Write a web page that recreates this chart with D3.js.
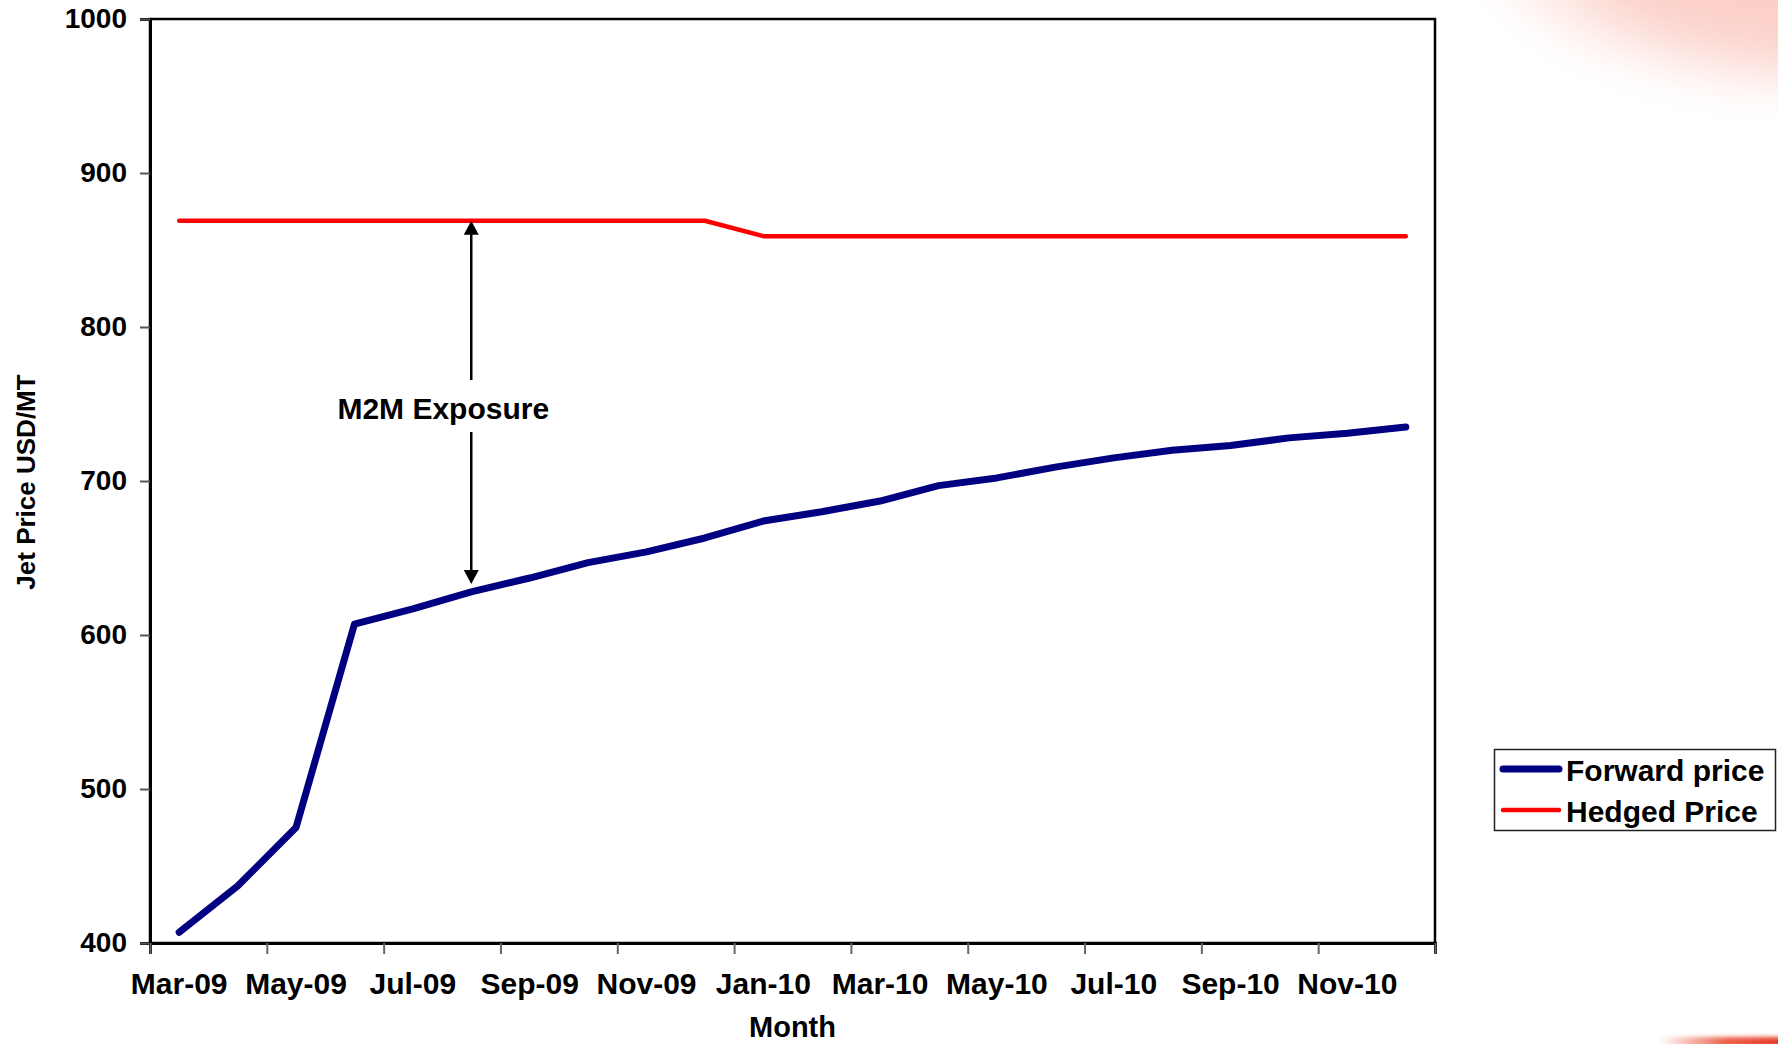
<!DOCTYPE html>
<html>
<head>
<meta charset="utf-8">
<script src="https://cdn.jsdelivr.net/npm/d3@7"></script>
<style>
  html, body { margin: 0; padding: 0; background: #ffffff; }
  svg { display: block; }
  text { font-family: "Liberation Sans", Arial, sans-serif; font-weight: bold; fill: #000; }
</style>
</head>
<body>
<svg id="chart" width="1778" height="1044"></svg>
<script>
// Monthly jet fuel forward curve against the hedged price
const months = ["Mar-09","Apr-09","May-09","Jun-09","Jul-09","Aug-09","Sep-09","Oct-09","Nov-09","Dec-09",
                "Jan-10","Feb-10","Mar-10","Apr-10","May-10","Jun-10","Jul-10","Aug-10","Sep-10","Oct-10","Nov-10","Dec-10"];
const forwardPrice = [407, 437, 475, 607, 617, 628, 637, 647, 654, 663, 674, 680, 687, 697, 702, 709, 715, 720, 723, 728, 731, 735];
const hedgedPrice  = [869, 869, 869, 869, 869, 869, 869, 869, 869, 869, 859, 859, 859, 859, 859, 859, 859, 859, 859, 859, 859, 859];
const yTicks = [400, 500, 600, 700, 800, 900, 1000];
const seriesNames = ["Forward price", "Hedged Price"];
const annotationText = "M2M Exposure";
const annotationMonth = "Aug-09";

const svg = d3.select("#chart");
const plotLeft = 150, plotRight = 1435, plotTop = 19, plotBottom = 943;

// Slide background accents
const defs = svg.append("defs");
const blur = defs.append("filter").attr("id", "soft").attr("x", "-50%").attr("y", "-50%").attr("width", "200%").attr("height", "200%");
blur.append("feGaussianBlur").attr("stdDeviation", 22);
const blurSmall = defs.append("filter").attr("id", "softSmall").attr("x", "-20%").attr("y", "-200%").attr("width", "140%").attr("height", "500%");
blurSmall.append("feGaussianBlur").attr("stdDeviation", 2);
const stripe = defs.append("linearGradient").attr("id", "stripe").attr("x1", "0").attr("x2", "1").attr("y1", "0").attr("y2", "0");
stripe.append("stop").attr("offset", "0").attr("stop-color", "#e8391d").attr("stop-opacity", 0);
stripe.append("stop").attr("offset", "0.5").attr("stop-color", "#e8391d").attr("stop-opacity", 0.8);
stripe.append("stop").attr("offset", "1").attr("stop-color", "#e3301a").attr("stop-opacity", 1);

const accent = svg.append("g");
accent.append("ellipse").attr("cx", 1850).attr("cy", -70).attr("rx", 360).attr("ry", 160)
  .attr("fill", "#fde2dd").attr("opacity", 0.8).attr("filter", "url(#soft)");
accent.append("ellipse").attr("cx", 1830).attr("cy", -55).attr("rx", 260).attr("ry", 110)
  .attr("fill", "#fbcac2").attr("opacity", 0.8).attr("filter", "url(#soft)");
accent.append("rect").attr("x", 1660).attr("y", 1037).attr("width", 130).attr("height", 10)
  .attr("fill", "url(#stripe)").attr("filter", "url(#softSmall)");

// Scales
const x = d3.scaleBand().domain(months).range([plotLeft, plotRight]).padding(0);
const xIdx = d3.scaleLinear().domain([0, months.length]).range([plotLeft, plotRight]);
const y = d3.scaleLinear().domain([400, 1000]).range([plotBottom, plotTop]);
const cx = d => x(d) + x.bandwidth() / 2;

// Plot area frame
svg.append("rect").attr("x", plotLeft).attr("y", plotTop).attr("width", plotRight - plotLeft).attr("height", plotBottom - plotTop)
  .attr("fill", "#fff").attr("stroke", "#000").attr("stroke-width", 2.5);

// Y axis
const yAxis = svg.append("g").attr("transform", `translate(${plotLeft},0)`)
  .call(d3.axisLeft(y).tickValues(yTicks).tickSize(10).tickPadding(13).tickFormat(d3.format("d")));
yAxis.select(".domain").attr("stroke", "#000").attr("stroke-width", 3);
yAxis.selectAll(".tick line").attr("stroke", "#555").attr("stroke-width", 2);
yAxis.selectAll(".tick text").attr("font-size", 28).attr("font-family", "Liberation Sans, Arial, sans-serif").attr("font-weight", "bold");

// X axis tick marks every two months, at category boundaries
const xTickAxis = svg.append("g").attr("transform", `translate(0,${plotBottom})`)
  .call(d3.axisBottom(xIdx).tickValues(d3.range(0, months.length + 1, 2)).tickSize(11).tickFormat(""));
xTickAxis.select(".domain").attr("stroke", "#000").attr("stroke-width", 3);
xTickAxis.selectAll(".tick line").attr("stroke", "#666").attr("stroke-width", 2);

// X axis labels, every other month
const xLabelAxis = svg.append("g").attr("transform", `translate(0,${plotBottom})`)
  .call(d3.axisBottom(x).tickValues(months.filter((d, i) => i % 2 === 0)).tickSize(0).tickPadding(30));
xLabelAxis.select(".domain").remove();
xLabelAxis.selectAll(".tick text").attr("font-size", 30).attr("font-family", "Liberation Sans, Arial, sans-serif").attr("font-weight", "bold");

// Axis titles
svg.append("text").attr("x", (plotLeft + plotRight) / 2).attr("y", 1037).attr("text-anchor", "middle")
  .attr("font-size", 29).text("Month");
svg.append("text").attr("transform", "translate(35,482) rotate(-90)").attr("text-anchor", "middle")
  .attr("font-size", 26).text("Jet Price USD/MT");

// Series lines
const line = d3.line().x((d, i) => cx(months[i])).y(d => y(d));
svg.append("path").datum(hedgedPrice).attr("d", line)
  .attr("fill", "none").attr("stroke", "#ff0000").attr("stroke-width", 4.5)
  .attr("stroke-linejoin", "round").attr("stroke-linecap", "round");
svg.append("path").datum(forwardPrice).attr("d", line)
  .attr("fill", "none").attr("stroke", "#000080").attr("stroke-width", 7)
  .attr("stroke-linejoin", "round").attr("stroke-linecap", "round");

// Exposure annotation between the two curves
const ai = months.indexOf(annotationMonth);
const ax = cx(annotationMonth);
const yTop = y(hedgedPrice[ai]);
const yBot = y(forwardPrice[ai]) - 8;
const labelY = 419;
const ann = svg.append("g");
ann.append("line").attr("x1", ax).attr("x2", ax).attr("y1", yTop + 12).attr("y2", 380)
  .attr("stroke", "#000").attr("stroke-width", 2.5);
ann.append("line").attr("x1", ax).attr("x2", ax).attr("y1", 432).attr("y2", yBot - 12)
  .attr("stroke", "#000").attr("stroke-width", 2.5);
ann.append("path").attr("d", `M${ax},${yTop} L${ax - 7.5},${yTop + 14} L${ax + 7.5},${yTop + 14} Z`).attr("fill", "#000");
ann.append("path").attr("d", `M${ax},${yBot} L${ax - 7.5},${yBot - 14} L${ax + 7.5},${yBot - 14} Z`).attr("fill", "#000");
ann.append("text").attr("x", ax - 28).attr("y", labelY).attr("text-anchor", "middle")
  .attr("font-size", 30).text(annotationText);

// Legend
const legend = svg.append("g");
legend.append("rect").attr("x", 1494.5).attr("y", 749.5).attr("width", 281).attr("height", 81)
  .attr("fill", "#fff").attr("stroke", "#222").attr("stroke-width", 1.5);
const legendStyles = [
  { color: "#000080", width: 7, yLine: 769, yText: 781 },
  { color: "#ff0000", width: 4.5, yLine: 810, yText: 822 }
];
seriesNames.forEach((name, i) => {
  const s = legendStyles[i];
  legend.append("line").attr("x1", 1503).attr("x2", 1559).attr("y1", s.yLine).attr("y2", s.yLine)
    .attr("stroke", s.color).attr("stroke-width", s.width).attr("stroke-linecap", "round");
  legend.append("text").attr("x", 1566).attr("y", s.yText).attr("font-size", 30).text(name);
});
</script>
</body>
</html>
